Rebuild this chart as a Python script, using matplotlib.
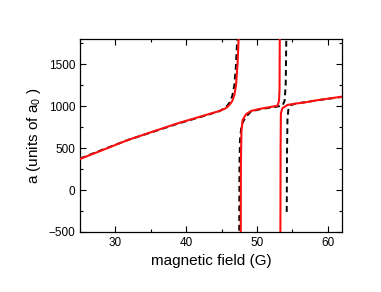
import numpy as np
import matplotlib.pyplot as plt
from matplotlib.ticker import MultipleLocator

plt.rcParams['font.family'] = ['Liberation Sans', 'DejaVu Sans']
plt.rcParams['mathtext.default'] = 'regular'

# red (solid) curve, three branches
red_b1 = [25, 28, 31.75, 35, 38.8, 41, 43, 44.7, 45.6, 46.1, 46.5, 46.8, 47.04, 47.25, 47.4, 47.45]
red_a1 = [370, 470, 596, 688, 795, 850, 900, 942, 975, 1014, 1060, 1133, 1253, 1500, 1800, 1900]
red_b2 = [47.7, 47.72, 47.8, 47.97, 48.44, 49.15, 50.55, 51.8, 52.9, 53.1, 53.18, 53.22]
red_a2 = [-600, 300, 700, 835, 903, 942, 970, 988, 1005, 1060, 1200, 1900]
red_b3 = [53.3, 53.33, 53.37, 53.59, 54.3, 55.4, 56.6, 58.5, 60.3, 62]
red_a3 = [-600, 500, 915, 975, 1014, 1030, 1042, 1070, 1092, 1113]

# black (dashed) curve
blk_b1 = [25, 28, 31.75, 35, 38.8, 41, 43, 44.7, 45.6, 46.1, 46.5, 46.8, 47.0, 47.2, 47.26]
blk_a1 = [375, 475, 596, 685, 790, 845, 895, 940, 985, 1040, 1120, 1250, 1450, 1800, 1900]
blk_b2 = [47.48, 47.52, 47.6, 47.75, 47.95, 48.4, 49.15, 50.55, 52.9, 53.6, 53.9, 54.05, 54.15]
blk_a2 = [-600, 300, 600, 730, 800, 870, 935, 965, 995, 1005, 1065, 1250, 1900]
blk_b3 = [54.2, 54.23, 54.3, 54.45, 54.7, 55.5, 57, 59, 62]
blk_a3 = [-260, 400, 850, 975, 1010, 1030, 1050, 1075, 1110]

fig = plt.figure(figsize=(3.81, 2.92), dpi=100)
ax = fig.add_axes([0.21, 0.2055, 0.6876, 0.661])

for b, a in [(blk_b1, blk_a1), (blk_b2, blk_a2), (blk_b3, blk_a3)]:
    ax.plot(b, a, color='black', lw=1.4, ls=(0, (3, 2)), zorder=2)
for b, a in [(red_b1, red_a1), (red_b2, red_a2), (red_b3, red_a3)]:
    ax.plot(b, a, color='#ff1010', lw=1.5, zorder=3)

ax.set_xlim(25, 62)
ax.set_ylim(-500, 1800)
ax.xaxis.set_major_locator(MultipleLocator(10))
ax.xaxis.set_minor_locator(MultipleLocator(5))
ax.yaxis.set_major_locator(MultipleLocator(500))
ax.yaxis.set_minor_locator(MultipleLocator(250))
ax.tick_params(which='both', direction='in', top=True, right=True, labelsize=8.5, width=0.8)
ax.tick_params(which='major', length=4)
ax.tick_params(which='minor', length=2.5)
for s in ax.spines.values():
    s.set_linewidth(0.9)

ax.set_xlabel('magnetic field (G)', fontsize=11)
ax.set_ylabel('a (units of a$_0$ )', fontsize=11)

fig.savefig('out.png', dpi=100)
